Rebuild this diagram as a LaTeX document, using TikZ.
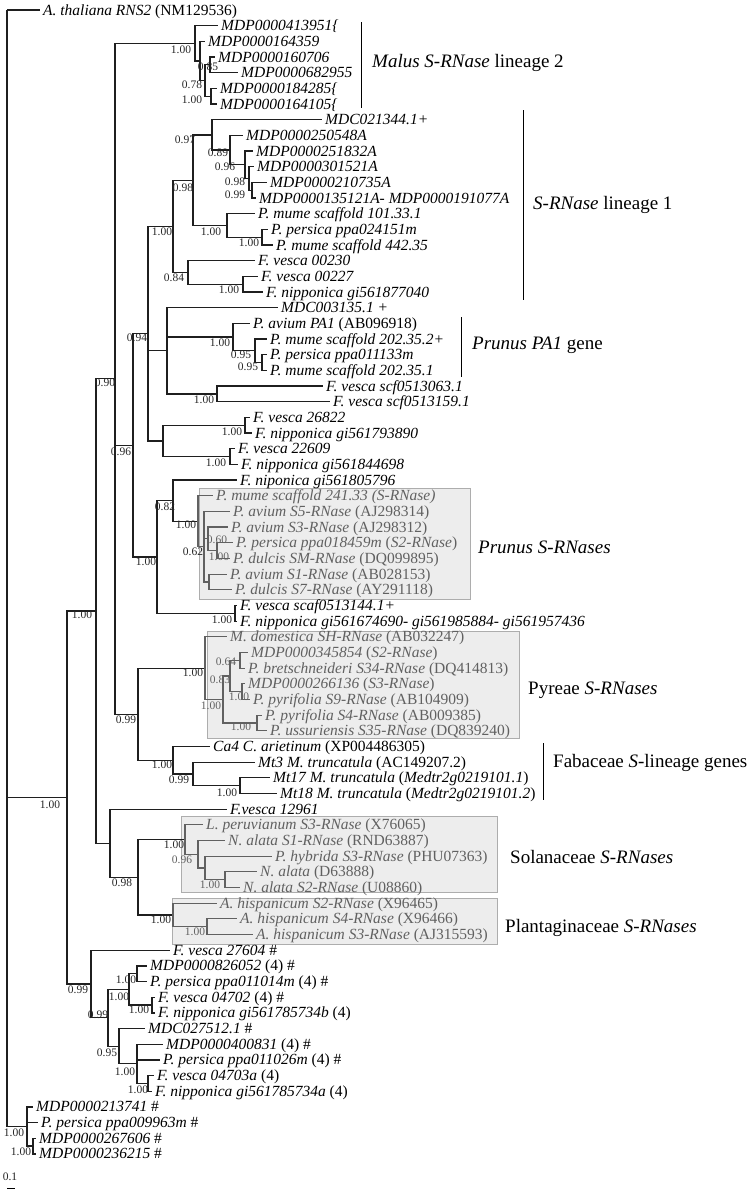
\documentclass[tikz,border=0pt]{standalone}
\usepackage{fontspec}
\setmainfont{Liberation Serif}
\newcommand\tleaf[5]{\coordinate (#1) at (#2,#3);\draw[kbr] (#4) |- (#1);\node[klb] (#1t) at ([xshift=3pt,yshift=-5pt]#1) {#5};}
\newcommand\gtleaf[5]{\coordinate (#1) at (#2,#3);\draw[gbr] (#4) |- (#1);\node[glb] (#1t) at ([xshift=3pt,yshift=-5pt]#1) {#5};}
\newcommand\tnode[4]{\coordinate (#1) at (#2,#3);\draw[kbr] (#4) |- (#1);}
\newcommand\gtnode[4]{\coordinate (#1) at (#2,#3);\draw[gbr] (#4) |- (#1);}
\begin{document}
\begin{tikzpicture}[x=1pt,y=-1pt,
  kbr/.style={draw=black!88,line width=1.25pt},
  gbr/.style={draw=black!62,line width=1.25pt},
  klb/.style={anchor=base west,inner sep=0pt,text=black,font=\fontsize{15.5}{16}\selectfont},
  glb/.style={klb,text=black!62},
  sup/.style={inner sep=0pt,font=\fontsize{11.5}{12}\selectfont,text=black!85},
  gsup/.style={sup,text=black!62},
  clade/.style={anchor=west,inner sep=0pt,font=\fontsize{19}{20}\selectfont},
  bar/.style={draw=black,line width=1pt},
  cbox/.style={fill=black!7,draw=black!32,line width=0.9pt}]
\useasboundingbox[fill=white] (0,0) rectangle (750,1192);
% shaded boxes
\path[cbox] (199,488) rectangle (470,599);
\path[cbox] (207,631) rectangle (519,738);
\path[cbox] (181,816) rectangle (497,892);
\path[cbox] (172,898) rectangle (497,944);
\begin{scope}[y=-15.67pt,yshift=5.67pt]
\coordinate (R) at (7,1);
\tleaf{l1}{40}{1}{R}{\textit{A. thaliana RNS2} (NM129536)}
\tnode{I}{67}{51.25}{R}
\tnode{P}{96}{39.35}{I}
\tnode{Q}{115}{24.53}{P}
% Malus lineage 2
\tnode{MalL}{195}{3.125}{Q}
\tnode{nA}{200}{4.25}{MalL}
\tnode{nB}{205}{5.5}{nA}
\tnode{nC}{210}{4.5}{nB}
\tnode{nD}{211}{6.5}{nB}
\tleaf{l2}{218}{2}{MalL}{\textit{MDP0000413951\{}}
\tleaf{l3}{205}{3}{nA}{\textit{MDP0000164359}}
\tleaf{l4}{215}{4}{nC}{\textit{MDP0000160706}}
\tleaf{l5}{238}{5}{nC}{\textit{MDP0000682955}}
\tleaf{l6}{217}{6}{nD}{\textit{MDP0000184285\{}}
\tleaf{l7}{217}{7}{nD}{\textit{MDP0000164105\{}}
% lineage 1
\tnode{Y}{133}{28.78}{Q}
\tnode{X}{148}{21.65}{Y}
\tnode{L1}{173}{14.805}{X}
\tnode{nEL}{193}{11.859}{L1}
\tnode{nSS}{212}{8.969}{nEL}
\tnode{nEN}{230}{9.9375}{nSS}
\tnode{nNS}{245}{10.875}{nEN}
\tnode{nNE}{249}{11.75}{nNS}
\tnode{nNN}{252}{12.5}{nNE}
\tleaf{l8}{322}{8}{nSS}{\textit{MDC021344.1+}}
\tleaf{l9}{243}{9}{nEN}{\textit{MDP0000250548A}}
\tleaf{l10}{253}{10}{nNS}{\textit{MDP0000251832A}}
\tleaf{l11}{254}{11}{nNE}{\textit{MDP0000301521A}}
\tleaf{l12}{267}{12}{nNN}{\textit{MDP0000210735A}}
\tleaf{l13}{256}{13}{nNN}{\textit{MDP0000135121A- MDP0000191077A}}
\tnode{PL}{227}{14.75}{nEL}
\tnode{nPL}{262}{15.5}{PL}
\tleaf{l14}{255}{14}{PL}{\textit{P. mume scaffold 101.33.1}}
\tleaf{l15}{268}{15}{nPL}{\textit{P. persica ppa024151m}}
\tleaf{l16}{273}{16}{nPL}{\textit{P. mume scaffold 442.35}}
\tnode{nEF}{188}{17.75}{L1}
\tnode{nEFb}{243}{18.5}{nEF}
\tleaf{l17}{255}{17}{nEF}{\textit{F. vesca 00230}}
\tleaf{l18}{258}{18}{nEFb}{\textit{F. vesca 00227}}
\tleaf{l19}{263}{19}{nEFb}{\textit{F. nipponica gi561877040}}
% PA1
\tnode{PA}{167}{22.75}{X}
\tnode{PAn}{233}{21.875}{PA}
\tnode{nPa}{255}{22.75}{PAn}
\tnode{nPb}{262}{23.5}{nPa}
\tnode{scf}{217}{25.5}{PA}
\tleaf{l20}{278}{20}{PA}{\textit{MDC003135.1 +}}
\tleaf{l21}{250}{21}{PAn}{\textit{P. avium PA1} (AB096918)}
\tleaf{l22}{267}{22}{nPa}{\textit{P. mume scaffold 202.35.2+}}
\tleaf{l23}{267}{23}{nPb}{\textit{P. persica ppa011133m}}
\tleaf{l24}{267}{24}{nPb}{\textit{P. mume scaffold 202.35.1}}
\tleaf{l25}{323}{25}{scf}{\textit{F. vesca scf0513063.1}}
\tleaf{l26}{330}{26}{scf}{\textit{F. vesca scf0513159.1}}
\tnode{G}{163}{28.5}{X}
\tnode{nGa}{245}{27.5}{G}
\tnode{nGb}{230}{29.5}{G}
\tleaf{l27}{250}{27}{nGa}{\textit{F. vesca 26822}}
\tleaf{l28}{252}{28}{nGa}{\textit{F. nipponica gi561793890}}
\tleaf{l29}{235}{29}{nGb}{\textit{F. vesca 22609}}
\tleaf{l30}{238}{30}{nGb}{\textit{F. nipponica gi561844698}}
% Prunus S-RNases
\tnode{Z}{157}{35.906}{Y}
\tnode{AA}{173}{32.3125}{Z}
\tnode{AB}{198}{33.625}{AA}
\gtnode{AC}{204}{35.25}{AB}
\gtnode{AD}{208}{34.75}{AC}
\gtnode{AF}{217}{35.5}{AD}
\gtnode{AG}{209}{37.5}{AC}
\tleaf{l31}{237}{31}{AA}{\textit{F. niponica gi561805796}}
\gtleaf{l32}{213}{32}{AB}{\textit{P. mume scaffold 241.33 (S-RNase)}}
\gtleaf{l33}{230}{33}{AC}{\textit{P. avium S5-RNase} (AJ298314)}
\gtleaf{l34}{228}{34}{AD}{\textit{P. avium S3-RNase} (AJ298312)}
\gtleaf{l35}{233}{35}{AF}{\textit{P. persica ppa018459m} (\textit{S2-RNase})}
\gtleaf{l36}{230}{36}{AF}{\textit{P. dulcis SM-RNase} (DQ099895)}
\gtleaf{l37}{227}{37}{AG}{\textit{P. avium S1-RNase} (AB028153)}
\gtleaf{l38}{232}{38}{AG}{\textit{P. dulcis S7-RNase} (AY291118)}
\tnode{nSc}{235}{39.5}{Z}
\tleaf{l39}{237}{39}{nSc}{\textit{F. vesca scaf0513144.1+}}
\tleaf{l40}{237}{40}{nSc}{\textit{F. nipponica gi561674690- gi561985884- gi561957436}}
% Pyreae
\tnode{W}{138}{45.9375}{Q}
\tnode{PY}{205}{43}{W}
\gtnode{PYa}{223}{45}{PY}
\gtnode{PYb}{230}{43.5}{PYa}
\gtnode{nSF}{240}{42.5}{PYb}
\gtnode{nOH}{242}{44.5}{PYb}
\gtnode{PYc}{257}{46.5}{PYa}
\gtleaf{l41}{227}{41}{PY}{\textit{M. domestica SH-RNase} (AB032247)}
\gtleaf{l42}{248}{42}{nSF}{\textit{MDP0000345854} (\textit{S2-RNase})}
\gtleaf{l43}{245}{43}{nSF}{\textit{P. bretschneideri S34-RNase} (DQ414813)}
\gtleaf{l44}{245}{44}{nOH}{\textit{MDP0000266136} (\textit{S3-RNase})}
\gtleaf{l45}{250}{45}{nOH}{\textit{P. pyrifolia S9-RNase} (AB104909)}
\gtleaf{l46}{262}{46}{PYc}{\textit{P. pyrifolia S4-RNase} (AB009385)}
\gtleaf{l47}{267}{47}{PYc}{\textit{P. ussuriensis S35-RNase} (DQ839240)}
% Fabaceae
\tnode{FAB}{173}{48.875}{W}
\tnode{FABb}{193}{49.75}{FAB}
\tnode{FABc}{240}{50.5}{FABb}
\tleaf{l48}{210}{48}{FAB}{\textit{Ca4 C. arietinum} (XP004486305)}
\tleaf{l49}{255}{49}{FABb}{\textit{Mt3 M. truncatula} (AC149207.2)}
\tleaf{l50}{270}{50}{FABc}{\textit{Mt17 M. truncatula} (\textit{Medtr2g0219101.1})}
\tleaf{l51}{277}{51}{FABc}{\textit{Mt18 M. truncatula} (\textit{Medtr2g0219101.2})}
% Solanaceae / Plantaginaceae
\tnode{S}{110}{54.17}{P}
\tnode{T}{138}{56.34}{S}
\tnode{U}{185}{53.9375}{T}
\gtnode{Ub}{198}{54.875}{U}
\gtnode{Uc}{205}{55.75}{Ub}
\gtnode{Ud}{225}{56.5}{Uc}
\tnode{V}{173}{58.75}{T}
\gtnode{Vb}{207}{59.5}{V}
\tleaf{l52}{227}{52}{S}{\textit{F.vesca 12961}}
\gtleaf{l53}{203}{53}{U}{\textit{L. peruvianum S3-RNase} (X76065)}
\gtleaf{l54}{225}{54}{Ub}{\textit{N. alata S1-RNase} (RND63887)}
\gtleaf{l55}{272}{55}{Uc}{\textit{P. hybrida S3-RNase} (PHU07363)}
\gtleaf{l56}{257}{56}{Ud}{\textit{N. alata} (D63888)}
\gtleaf{l57}{240}{57}{Ud}{\textit{N. alata S2-RNase} (U08860)}
\gtleaf{l58}{217}{58}{V}{\textit{A. hispanicum S2-RNase} (X96465)}
\gtleaf{l59}{237}{59}{Vb}{\textit{A. hispanicum S4-RNase} (X96466)}
\gtleaf{l60}{253}{60}{Vb}{\textit{A. hispanicum S3-RNase} (AJ315593)}
% group 4 #
\tnode{J}{91}{63.16}{I}
\tnode{K}{108}{65.31}{J}
\tnode{Ka}{129}{63.5}{K}
\tnode{Kaa}{137}{62.5}{Ka}
\tnode{Kab}{152}{64.5}{Ka}
\tnode{Kb}{119}{67.125}{K}
\tnode{Kbb}{137}{68.25}{Kb}
\tnode{Kbc}{148}{69.5}{Kbb}
\tleaf{l61}{170}{61}{J}{\textit{F. vesca 27604} \#}
\tleaf{l62}{147}{62}{Kaa}{\textit{MDP0000826052} (4) \#}
\tleaf{l63}{147}{63}{Kaa}{\textit{P. persica ppa011014m} (4) \#}
\tleaf{l64}{155}{64}{Kab}{\textit{F. vesca 04702} (4) \#}
\tleaf{l65}{155}{65}{Kab}{\textit{F. nipponica gi561785734b} (4)}
\tleaf{l66}{145}{66}{Kb}{\textit{MDC027512.1} \#}
\tleaf{l67}{163}{67}{Kbb}{\textit{MDP0000400831} (4) \#}
\tleaf{l68}{160}{68}{Kbb}{\textit{P. persica ppa011026m} (4) \#}
\tleaf{l69}{154}{69}{Kbc}{\textit{F. vesca 04703a} (4)}
\tleaf{l70}{152}{70}{Kbc}{\textit{F. nipponica gi561785734a} (4)}
% outgroup
\tnode{O}{27}{72.25}{R}
\tnode{Ob}{33}{73.5}{O}
\tleaf{l71}{33}{71}{O}{\textit{MDP0000213741} \#}
\tleaf{l72}{38}{72}{O}{\textit{P. persica ppa009963m} \#}
\tleaf{l73}{36}{73}{Ob}{\textit{MDP0000267606} \#}
\tleaf{l74}{36}{74}{Ob}{\textit{MDP0000236215} \#}
\end{scope}
% support values
\node[sup] (s1) at (181,50) {1.00};
\node[sup] (s2) at (208,67) {0.85};
\node[sup] (s3) at (192,85) {0.78};
\node[sup] (s4) at (192,100) {1.00};
\node[sup] (s5) at (185,140) {0.97};
\node[sup] (s6) at (218,153) {0.89};
\node[sup] (s7) at (225,167) {0.96};
\node[sup] (s8) at (235,182) {0.98};
\node[sup] (s9) at (235,195) {0.99};
\node[sup] (s10) at (183,188) {0.98};
\node[sup] (s11) at (162,232) {1.00};
\node[sup] (s12) at (211,232) {1.00};
\node[sup] (s13) at (249,243) {1.00};
\node[sup] (s14) at (174,278) {0.84};
\node[sup] (s15) at (229,290) {1.00};
\node[sup] (s16) at (137,338) {0.94};
\node[sup] (s17) at (220,343) {1.00};
\node[sup] (s18) at (241,355) {0.95};
\node[sup] (s19) at (248,367) {0.95};
\node[sup] (s20) at (105,383) {0.90};
\node[sup] (s21) at (204,400) {1.00};
\node[sup] (s22) at (232,432) {1.00};
\node[sup] (s23) at (121,452) {0.96};
\node[sup] (s24) at (216,463) {1.00};
\node[sup] (s25) at (165,507) {0.82};
\node[sup] (s26) at (186,525) {1.00};
\node[gsup] (s27) at (217,540) {0.60};
\node[sup] (s28) at (193,552) {0.62};
\node[gsup] (s29) at (219,557) {1.00};
\node[sup] (s30) at (146,562) {1.00};
\node[sup] (s31) at (82,615) {1.00};
\node[sup] (s32) at (222,620) {1.00};
\node[gsup] (s33) at (226,662) {0.64};
\node[sup] (s34) at (193,673) {1.00};
\node[gsup] (s35) at (220,680) {0.83};
\node[gsup] (s36) at (239,697) {1.00};
\node[gsup] (s37) at (211,706) {1.00};
\node[sup] (s38) at (126,720) {0.99};
\node[gsup] (s39) at (241,727) {1.00};
\node[sup] (s40) at (162,765) {1.00};
\node[sup] (s41) at (179,780) {0.99};
\node[sup] (s42) at (227,793) {1.00};
\node[sup] (s43) at (50,805) {1.00};
\node[sup] (s44) at (174,845) {1.00};
\node[gsup] (s45) at (182,860) {0.96};
\node[sup] (s46) at (122,883) {0.98};
\node[gsup] (s47) at (210,885) {1.00};
\node[sup] (s48) at (161,920) {1.00};
\node[gsup] (s49) at (195,932) {1.00};
\node[sup] (s50) at (126,980) {1.00};
\node[sup] (s51) at (78,990) {0.99};
\node[sup] (s52) at (119,997) {1.00};
\node[sup] (s53) at (139,1010) {1.00};
\node[sup] (s54) at (98,1015) {0.99};
\node[sup] (s55) at (107,1053) {0.95};
\node[sup] (s56) at (125,1072) {1.00};
\node[sup] (s57) at (138,1090) {1.00};
\node[sup] (s58) at (14,1133) {1.00};
\node[sup] (s59) at (21,1152) {1.00};
% clade brackets and labels
\coordinate (b1a) at (361,22); \coordinate (b1b) at (361,108);
\draw[bar] (b1a) -- (b1b);
\node[clade] (c1) at (372,63) {\textit{Malus S-RNase} lineage 2};
\coordinate (b2a) at (523,110); \coordinate (b2b) at (523,300);
\draw[bar] (b2a) -- (b2b);
\node[clade] (c2) at (533,205) {\textit{S-RNase} lineage 1};
\coordinate (b3a) at (461,317); \coordinate (b3b) at (461,377);
\draw[bar] (b3a) -- (b3b);
\node[clade] (c3) at (472,345) {\textit{Prunus PA1} gene};
\node[clade] (c4) at (478,547) {\textit{Prunus S-RNases}};
\node[clade] (c5) at (528,690) {Pyreae \textit{S-RNases}};
\coordinate (b6a) at (543,743); \coordinate (b6b) at (543,800);
\draw[bar] (b6a) -- (b6b);
\node[clade] (c6) at (553,763) {Fabaceae \textit{S}-lineage genes};
\node[clade] (c7) at (510,857) {Solanaceae \textit{S-RNases}};
\node[clade] (c8) at (505,928) {Plantaginaceae \textit{S-RNases}};
% scale bar
\node[sup] (sb) at (10,1177) {0.1};
\coordinate (sba) at (7,1188); \coordinate (sbb) at (15,1188);
\draw[bar] (sba) -- (sbb);
\end{tikzpicture}
\end{document}
